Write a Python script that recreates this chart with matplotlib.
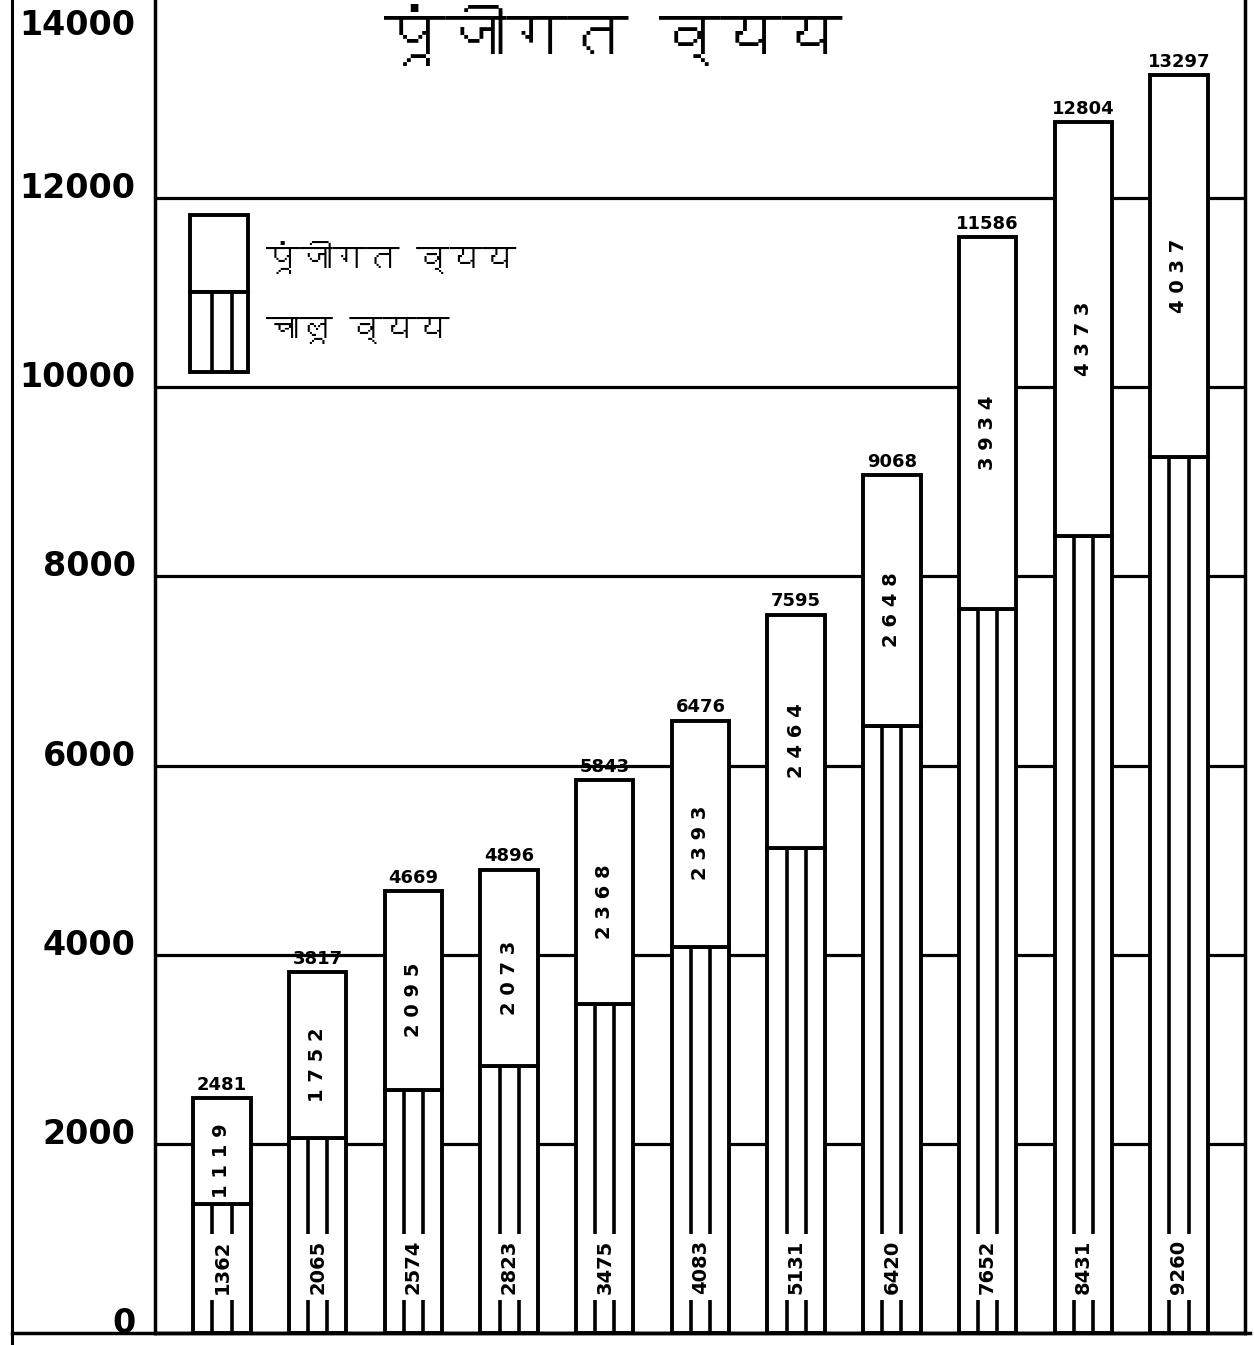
import numpy as np
import matplotlib
matplotlib.use('Agg')
import matplotlib.pyplot as plt
from matplotlib import font_manager
from matplotlib.ft2font import FT2Font
from matplotlib.patches import Rectangle
from matplotlib.lines import Line2D

# खर्च के आंकड़े (करोड़ रु.)
years_idx = np.arange(11)
chalu = [1362, 2065, 2574, 2823, 3475, 4083, 5131, 6420, 7652, 8431, 9260]      # चालू व्यय
punjigat = [1119, 1752, 2095, 2073, 2368, 2393, 2464, 2648, 3934, 4373, 4037]   # पूंजीगत व्यय
totals = [2481, 3817, 4669, 4896, 5843, 6476, 7595, 9068, 11586, 12804, 13297]
yticks = [0, 2000, 4000, 6000, 8000, 10000, 12000, 14000]

title = 'पूंजीगत व्यय'
legend_labels = ['पूंजीगत व्यय', 'चालू व्यय']


def deva_font():
    # koi bhi font jisme devanagari glyph ho
    for f in font_manager.fontManager.ttflist:
        try:
            cmap = FT2Font(f.fname).get_charmap()
        except Exception:
            continue
        if 0x092A in cmap:
            return f.name
    return 'DejaVu Sans'


hindi = [deva_font(), 'DejaVu Sans']
plt.rcParams['font.family'] = 'DejaVu Sans'

W, H = 1254, 1345
fig = plt.figure(figsize=(W / 100, H / 100), dpi=100)
ax = fig.add_axes([155 / W, 12 / H, 1090 / W, 1333 / H])
ax.set_xlim(-0.70, 10.69)
ax.set_ylim(0, 14095)

# grid
ax.set_yticks(yticks)
ax.set_xticks([])
ax.yaxis.grid(True, color='black', lw=2.3)
ax.yaxis.get_gridlines()[-1].set_visible(False)
ax.set_axisbelow(True)
ax.tick_params(axis='y', length=0, pad=14, labelsize=24)
ylabels = ax.get_yticklabels()
for lab in ylabels:
    lab.set_fontweight('bold')
    lab.set_va('baseline')
ylabels[-1].set_va('top')
for s in ['left', 'bottom', 'right']:
    ax.spines[s].set_linewidth(2.5)
ax.spines['top'].set_visible(False)

w = 0.6
ax.bar(years_idx, chalu, width=w, color='white', edgecolor='black', lw=2.8, zorder=3)
ax.bar(years_idx, punjigat, bottom=chalu, width=w, color='white', edgecolor='black',
       lw=2.8, zorder=3)
# chalu vyay ki khadi dhariyan
ax.vlines(years_idx - w / 6, 0, chalu, color='black', lw=2.6, zorder=4)
ax.vlines(years_idx + w / 6, 0, chalu, color='black', lw=2.6, zorder=4)

for i in range(len(totals)):
    ax.text(years_idx[i], 700, str(chalu[i]), rotation=90, ha='center', va='center',
            fontsize=14, fontweight='bold', zorder=5,
            bbox=dict(fc='white', ec='none', pad=4))
    mid = chalu[i] + punjigat[i] / 2 - 100
    ax.text(years_idx[i], mid, ' '.join(str(punjigat[i])), rotation=90, ha='center',
            va='center', fontsize=14, fontweight='bold', zorder=5)
    ax.text(years_idx[i], totals[i] + 90, str(totals[i]), ha='center', va='baseline',
            fontsize=13, fontweight='bold', zorder=5)

# legend
tr = ax.transAxes
ax.add_patch(Rectangle((0.0323, 0.781), 0.0534, 0.0577, transform=tr, fc='white',
                       ec='black', lw=2.8, zorder=6))
ax.add_patch(Rectangle((0.0323, 0.721), 0.0534, 0.060, transform=tr, fc='white',
                       ec='black', lw=2.8, zorder=6))
for lx in [0.0525, 0.0710]:
    ax.add_line(Line2D([lx, lx], [0.721, 0.781], transform=tr, color='black', lw=2.6,
                       zorder=7))
ax.text(0.1014, 0.8065, legend_labels[0], transform=tr, ha='left', va='center',
        fontsize=24, fontweight='bold', family=hindi, zorder=7)
ax.text(0.1014, 0.7524, legend_labels[1], transform=tr, ha='left', va='center',
        fontsize=24, fontweight='bold', family=hindi, zorder=7)

fig.text(613 / W, 1 - 4 / H, title, ha='center', va='top', fontsize=44,
         family=hindi)

# bahari frame
ft = fig.transFigure
fig.add_artist(Line2D([12 / W, 12 / W], [0, 1], transform=ft, color='black', lw=2.2))
fig.add_artist(Line2D([12 / W, 1250 / W], [12 / H, 12 / H], transform=ft, color='black',
                      lw=2.5))

fig.savefig('out.png', dpi=100, facecolor='white')
